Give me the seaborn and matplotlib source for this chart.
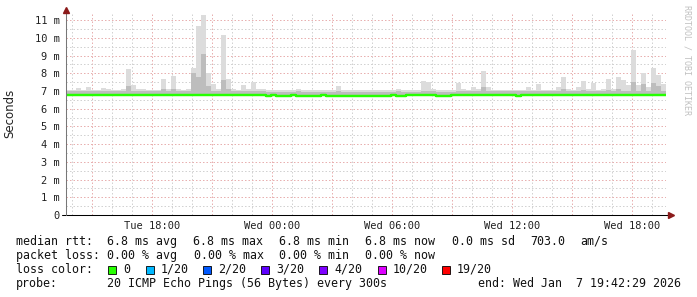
import numpy as np
import pandas as pd
import matplotlib
matplotlib.use("Agg")
import matplotlib.pyplot as plt
import seaborn as sns
from matplotlib.patches import Rectangle

# ---------------- data ----------------
start_hour = 13 + 42 / 60 + 29 / 3600      # Tue 13:42:29, hours since Tue 00:00
bin_hours = 0.25                            # 15-minute bins

# top of the light smoke (max ping, ms)
smoke_max = [
    7.08, 7.05, 7.16, 7.08, 7.20, 7.06, 7.05, 7.18, 7.10, 7.05, 7.08, 7.10, 8.23, 7.33, 7.10, 7.12, 7.05, 7.08, 7.05, 7.67,
    7.12, 7.85, 7.10, 7.05, 7.12, 8.30, 10.65, 11.26, 8.00, 7.40, 7.12, 10.14, 7.70, 7.10, 7.08, 7.35, 7.10, 7.48, 7.12, 7.10,
    7.05, 7.04, 7.06, 7.05, 7.04, 7.05, 7.10, 7.05, 7.04, 7.05, 7.06, 7.05, 7.04, 7.05, 7.28, 7.05, 7.04, 7.05, 7.06, 7.05,
    7.04, 7.05, 7.05, 7.06, 7.05, 7.04, 7.10, 7.05, 7.06, 7.05, 7.08, 7.58, 7.50, 7.10, 7.05, 7.04, 7.05, 7.06, 7.47, 7.10,
    7.05, 7.20, 7.10, 8.12, 7.25, 7.06, 7.05, 7.08, 7.05, 7.06, 7.05, 7.08, 7.20, 7.05, 7.42, 7.06, 7.08, 7.05, 7.25, 7.80,
    7.10, 7.05, 7.24, 7.55, 7.10, 7.45, 7.06, 7.10, 7.67, 7.10, 7.80, 7.60, 7.33, 9.30, 7.35, 8.04, 7.20, 8.30, 7.90, 7.40,
]
# top of the darker inner smoke (ms)
smoke_mid = [
    6.97, 6.97, 6.98, 6.97, 6.98, 6.97, 6.97, 6.98, 6.97, 6.97, 6.97, 6.97, 7.30, 7.00, 6.97, 6.97, 6.97, 6.97, 6.97, 7.10,
    6.97, 7.10, 6.97, 6.97, 6.97, 8.00, 7.80, 9.10, 7.30, 7.00, 6.97, 7.60, 7.10, 6.97, 6.97, 7.00, 6.97, 7.00, 6.97, 6.97,
    6.96, 6.96, 6.96, 6.96, 6.96, 6.96, 6.97, 6.96, 6.96, 6.96, 6.96, 6.96, 6.96, 6.96, 6.98, 6.96, 6.96, 6.96, 6.96, 6.96,
    6.96, 6.96, 6.96, 6.96, 6.96, 6.96, 6.97, 6.96, 6.96, 6.96, 6.96, 7.00, 7.00, 6.97, 6.96, 6.96, 6.96, 6.96, 7.00, 6.97,
    6.97, 6.98, 6.97, 7.20, 7.00, 6.97, 6.97, 6.97, 6.97, 6.97, 6.97, 6.97, 6.98, 6.97, 7.00, 6.97, 6.97, 6.97, 6.98, 7.10,
    6.97, 6.97, 6.98, 7.05, 6.97, 7.00, 6.97, 6.97, 7.05, 6.97, 7.10, 7.00, 7.00, 7.50, 7.00, 7.40, 6.98, 7.45, 7.30, 7.00,
]
# median rtt (ms)
median_rtt = [
    6.8, 6.8, 6.8, 6.8, 6.8, 6.8, 6.8, 6.8, 6.8, 6.8, 6.8, 6.8, 6.8, 6.8, 6.8, 6.8, 6.8, 6.8, 6.8, 6.8,
    6.8, 6.8, 6.8, 6.8, 6.8, 6.8, 6.8, 6.8, 6.8, 6.8, 6.8, 6.8, 6.8, 6.8, 6.8, 6.8, 6.8, 6.8, 6.8, 6.8,
    6.7, 6.8, 6.7, 6.7, 6.7, 6.8, 6.7, 6.7, 6.7, 6.7, 6.7, 6.8, 6.7, 6.7, 6.7, 6.7, 6.7, 6.7, 6.7, 6.7,
    6.7, 6.7, 6.7, 6.7, 6.7, 6.8, 6.7, 6.7, 6.8, 6.8, 6.8, 6.8, 6.8, 6.8, 6.7, 6.7, 6.7, 6.8, 6.8, 6.8,
    6.8, 6.8, 6.8, 6.8, 6.8, 6.8, 6.8, 6.8, 6.8, 6.8, 6.7, 6.8, 6.8, 6.8, 6.8, 6.8, 6.8, 6.8, 6.8, 6.8,
    6.8, 6.8, 6.8, 6.8, 6.8, 6.8, 6.8, 6.8, 6.8, 6.8, 6.8, 6.8, 6.8, 6.8, 6.8, 6.8, 6.8, 6.8, 6.8, 6.8,
]

x_tick_hours = [18, 24, 30, 36, 42]
x_tick_labels = ["Tue 18:00", "Wed 00:00", "Wed 06:00", "Wed 12:00", "Wed 18:00"]
y_tick_values = [0, 1, 2, 3, 4, 5, 6, 7, 8, 9, 10, 11]
y_tick_labels = ["0", "1 m", "2 m", "3 m", "4 m", "5 m", "6 m", "7 m", "8 m", "9 m", "10 m", "11 m"]

loss_labels = ["0", "1/20", "2/20", "3/20", "4/20", "10/20", "19/20"]
loss_colors = ["#26ff00", "#00b8ff", "#0059ff", "#5e00ff", "#7e00ff", "#dd00ff", "#ff0000"]

legend_rows = [
    [("median rtt:", 16), ("6.8 ms avg", 106.7), ("6.8 ms max", 193.3), ("6.8 ms min", 279.3),
     ("6.8 ms now", 365), ("0.0 ms sd", 451.7), ("703.0", 530), ("am/s", 580)],
    [("packet loss:", 16), ("0.00 % avg", 107.3), ("0.00 % max", 194), ("0.00 % min", 279.3),
     ("0.00 % now", 365)],
    [("loss color:", 16)],
    [("probe:", 16), ("20 ICMP Echo Pings (56 Bytes) every 300s", 107.3),
     ("end: Wed Jan  7 19:42:29 2026", 478.3)],
]
loss_box_x = [108, 145.7, 203.3, 261, 319.3, 377.5, 441.7]

# ---------------- figure ----------------
sns.set_style("white")
plt.rcParams["font.family"] = ["DejaVu Sans Mono"]

W, H = 697, 297
fig = plt.figure(figsize=(W / 100, H / 100), dpi=100)
fig.patch.set_facecolor("white")
ax = fig.add_axes([66 / W, (H - 215) / H, 600 / W, 202 / H])
ax.set_facecolor("white")

n = len(median_rtt)
x_edges = start_hour + bin_hours * np.arange(n + 1)
med_ext = np.append(median_rtt, median_rtt[-1])
max_ext = np.append(smoke_max, smoke_max[-1])
mid_ext = np.append(smoke_mid, smoke_mid[-1])

x0, x1 = start_hour, start_hour + 30
y0, y1 = 0, 11.4
ax.set_xlim(x0, x1)
ax.set_ylim(y0, y1)

# grid (dotted, rrdtool style)
major_col, minor_col = "#e8b0b0", "#d2d2d2"
for h in range(14, 44):
    col = major_col if h % 3 == 0 else minor_col
    ax.axvline(h, color=col, lw=0.72, ls=(0, (1.5, 2)), zorder=0)
for v in np.arange(0.5, 11.5, 0.5):
    col = major_col if float(v).is_integer() else minor_col
    ax.axhline(v, color=col, lw=0.72, ls=(0, (1.5, 2)), zorder=0)

# smoke
ax.fill_between(x_edges, med_ext, max_ext, step="post", color="#dcdcdc", lw=0, zorder=1)
ax.fill_between(x_edges, med_ext, mid_ext, step="post", color="#bdbdbd", lw=0, zorder=2)

# median line
df = pd.DataFrame({"t": x_edges, "rtt": med_ext})
sns.lineplot(data=df, x="t", y="rtt", ax=ax, color="#26ff00", lw=1.75,
             drawstyle="steps-post", zorder=3, estimator=None)

# ticks
ax.set_xticks(x_tick_hours)
ax.set_xticklabels(x_tick_labels)
ax.set_yticks(y_tick_values)
ax.set_yticklabels(y_tick_labels)
ax.tick_params(axis="both", length=0, labelsize=7.5, labelcolor="#222222")
ax.tick_params(axis="y", pad=4.5)
ax.tick_params(axis="x", pad=4)
ax.set_xlabel("")
ax.set_ylabel("")
for s in ax.spines.values():
    s.set_visible(False)

# axes lines and arrows
ax.plot([-4 / 600, 605 / 600], [0, 0], transform=ax.transAxes, color="#000000",
        lw=0.75, clip_on=False, zorder=5)
ax.plot([0, 0], [0, 203 / 202], transform=ax.transAxes, color="#777777",
        lw=0.75, clip_on=False, zorder=5)
ax.plot([0], [205 / 202], transform=ax.transAxes, marker="^", color="#8b1a1a",
        markersize=4.5, clip_on=False, zorder=6)
ax.plot([605 / 600], [0], transform=ax.transAxes, marker=">", color="#8b1a1a",
        markersize=4.5, clip_on=False, zorder=6)

# y axis title
fig.text(10 / W, 1 - 113 / H, "Seconds", rotation=90, ha="center", va="center",
         fontsize=8.5, family="DejaVu Sans", color="#222222")
# watermark
fig.text(687 / W, 1 - 5 / H, "RRDTOOL / TOBI OETIKER", rotation=270, ha="center",
         va="top", fontsize=6, color="#c0c0c0")

# legend rows
baselines = [245, 259, 273, 287]
for row, base in zip(legend_rows, baselines):
    for txt, px in row:
        fig.text(px / W, 1 - base / H, txt, ha="left", va="baseline",
                 fontsize=8.4, color="#111111")

for bx, lab, colr in zip(loss_box_x, loss_labels, loss_colors):
    fig.patches.append(Rectangle((bx / W, 1 - 273.5 / H), 8 / W, 8 / H,
                                 transform=fig.transFigure, facecolor=colr,
                                 edgecolor="#000000", lw=0.6))
    fig.text((bx + 15) / W, 1 - 273 / H, lab, ha="left", va="baseline",
             fontsize=8.4, color="#111111")

fig.savefig("out.png", dpi=100)
